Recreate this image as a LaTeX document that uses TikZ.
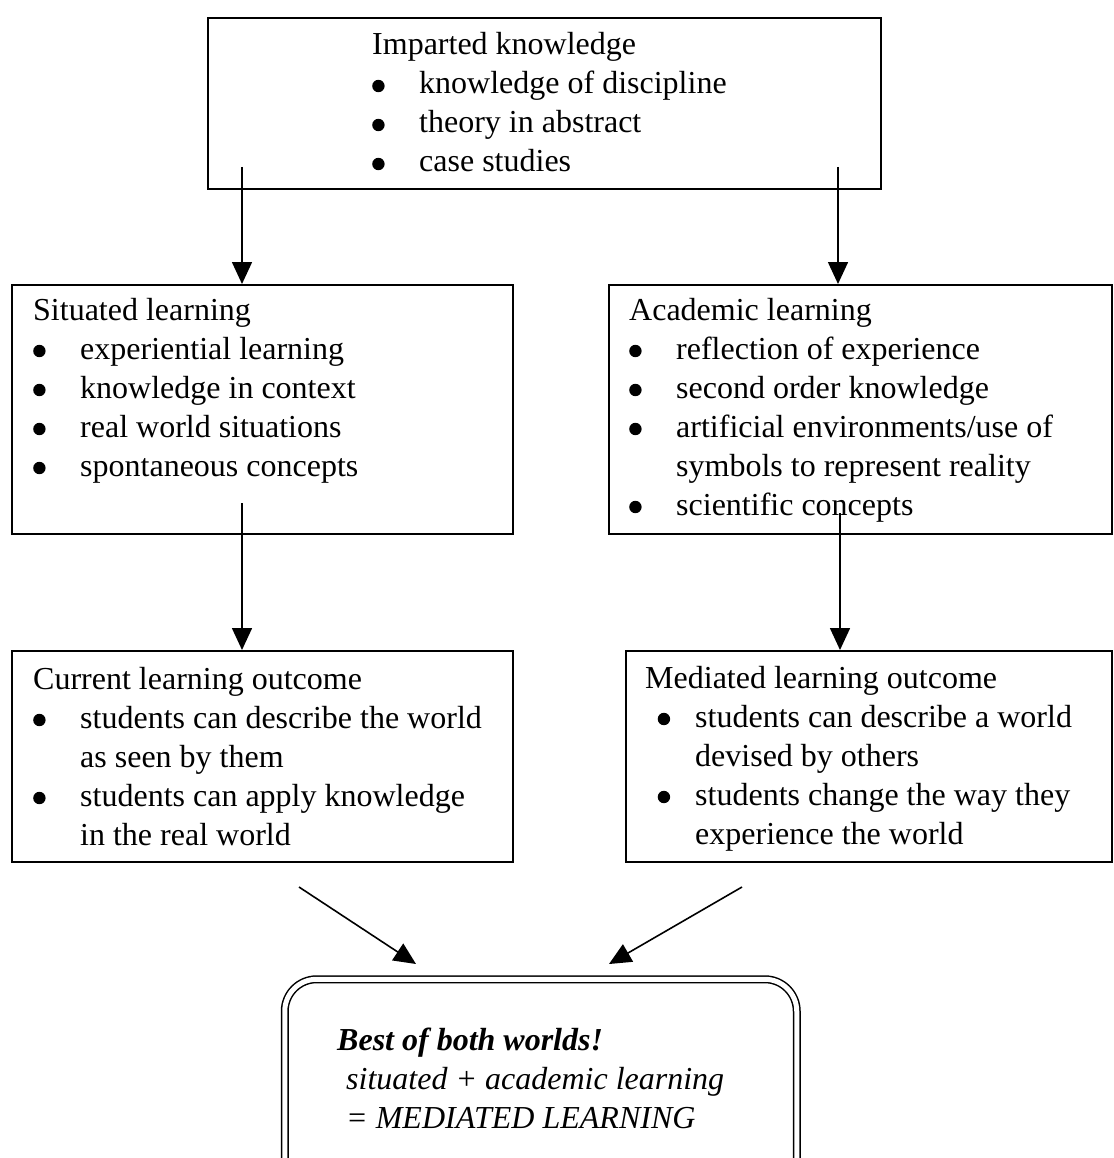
\documentclass[tikz,border=0pt]{standalone}
\usepackage{fontspec}
\setmainfont{Liberation Serif}
\usetikzlibrary{arrows.meta}

\newcommand\bul{\tikz[baseline=-8pt]\fill (0,0) circle (6.2pt);}
\newcommand\itm{\makebox[47pt][l]{\bul}}
\newcommand\cnt{\hspace*{47pt}}
\newcommand\itmb{\makebox[50pt][l]{\hspace*{12.5pt}\bul}}
\newcommand\cntb{\hspace*{50pt}}
\newcommand\bx[1]{\parbox[t]{520pt}{\fontsize{32}{39}\selectfont #1}}

\begin{document}
\begin{tikzpicture}[x=1pt,y=-1pt,
  box/.style={draw, line width=1.7pt, inner sep=0pt, anchor=north west},
  txt/.style={inner sep=0pt, anchor=base west},
  arr/.style={line width=1.6pt, -{Triangle[length=22pt,width=20pt]}}]
\useasboundingbox (0,0) rectangle (1113,1158);
\clip (0,0) rectangle (1113,1158);

% boxes
\node[box, minimum width=673pt, minimum height=171pt] (ik) at (207,17) {};
\node[box, minimum width=501pt, minimum height=249pt] (sl) at (11,284) {};
\node[box, minimum width=503pt, minimum height=249pt] (al) at (608,284) {};
\node[box, minimum width=501pt, minimum height=211pt] (cl) at (11,650) {};
\node[box, minimum width=486pt, minimum height=211pt] (ml) at (625,650) {};
\node[draw, double, line width=1.5pt, double distance=5pt, rounded corners=32pt,
      inner sep=0pt, anchor=north west, minimum width=512pt, minimum height=260pt] (bw) at (284,978.5) {};

% texts
\node[txt] (ikt) at (372,55) {\bx{Imparted knowledge\\
\itm knowledge of discipline\\
\itm theory in abstract\\
\itm case studies}};

\node[txt] (slt) at (33,320) {\bx{Situated learning\\
\itm experiential learning\\
\itm knowledge in context\\
\itm real world situations\\
\itm spontaneous concepts}};

\node[txt] (alt) at (629,320) {\bx{Academic learning\\
\itm reflection of experience\\
\itm second order knowledge\\
\itm artificial environments/use of\\
\cnt symbols to represent reality\\
\itm scientific concepts}};

\node[txt] (clt) at (33,689) {\bx{Current learning outcome\\
\itm students can describe the world\\
\cnt as seen by them\\
\itm students can apply knowledge\\
\cnt in the real world}};

\node[txt] (mlt) at (645,688) {\bx{Mediated learning outcome\\
\itmb students can describe a world\\
\cntb devised by others\\
\itmb students change the way they\\
\cntb experience the world}};

\node[txt] (bwt) at (337,1050) {\bx{\textbf{\textit{Best of both worlds!}}\\
\hspace*{9pt}\textit{situated + academic learning}\\
\hspace*{9pt}\textit{= MEDIATED LEARNING}}};

% connectors
\coordinate (t1) at (242,167);
\coordinate (t2) at (838,167);
\coordinate (s1) at (242,503);
\coordinate (s2) at (840,513);
\coordinate (d1) at (299,887);
\coordinate (d1e) at (416,964);
\coordinate (d2) at (742,887);
\coordinate (d2e) at (609,964);

\draw[arr] (t1) -- (t1 |- sl.north);
\draw[arr] (t2) -- (t2 |- al.north);
\draw[arr] (s1) -- (s1 |- cl.north);
\draw[arr] (s2) -- (s2 |- ml.north);
\draw[arr] (d1) -- (d1e);
\draw[arr] (d2) -- (d2e);
\end{tikzpicture}
\end{document}
